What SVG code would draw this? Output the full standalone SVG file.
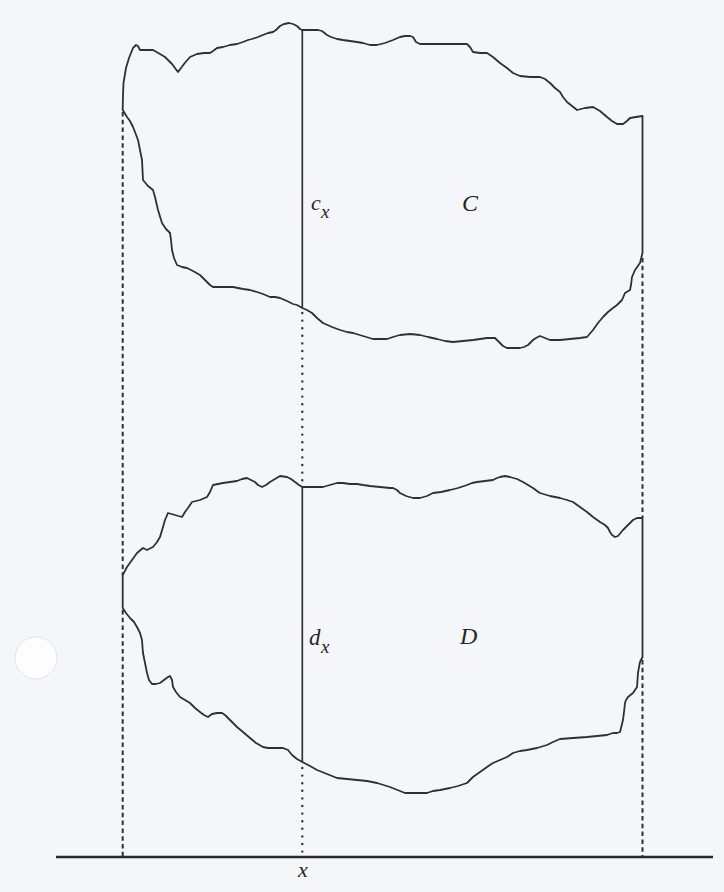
<svg xmlns="http://www.w3.org/2000/svg" width="724" height="892" viewBox="0 0 724 892">
  <defs>
    <style>
      .outline { fill: none; stroke: #303030; stroke-width: 1.8; stroke-linejoin: round; stroke-linecap: round; }
      .solid { fill: none; stroke: #303030; stroke-width: 1.7; }
      .axis { fill: none; stroke: #2a2a30; stroke-width: 2.4; }
      .dashed { fill: none; stroke: #303030; stroke-width: 2; stroke-dasharray: 4.5 3.3; }
      .dotted { fill: none; stroke: #303030; stroke-width: 2.4; stroke-dasharray: 0 7.6; stroke-linecap: round; }
      .lbl { font-family: "Liberation Serif", "Times New Roman", serif; font-style: italic; fill: #262626; }
    </style>
  </defs>
  <rect x="0" y="0" width="724" height="892" fill="#f4f6f9"/>
  <circle cx="36" cy="658" r="21" fill="#fdfdfd" stroke="#e2e4e8" stroke-width="1"/>

  <g id="shape-C">
    <path class="outline" d="M122.7,110 L123,95 123.5,83 126,68 129,58 133,48 136,45 138,46 140,50 146,50 153,50 160,54 165,57 172,64 178,72 184,64 190,57 197,54 204,53 210,53 213,51 217,48 223,47 230,45 237,44 243,42 248,40 252,39 258,37 263,35 268,33 273,32 276,30 280,26 284,24 289,23 293,24 297,26 300,29 302.3,30 310,30 318,30 322,31 327,35 331,37 337,39 343,40 350,41 357,42 363,43 370,45 377,45 385,43 393,40 400,37 405,36 410,36 413,37 416,42 420,44 430,44 440,44 450,44 460,44 467,44 470,47 473,52 480,53 487,53 493,57 500,63 507,68 513,73 520,76 530,77 540,77 545,79 550,83 555,88 560,92 563,97 567,102 572,106 577,110 585,108 593,107 600,111 607,117 612,121 617,124 623,124 627,121 630,118 636,117 642.5,116 L642.5,253 640,263 635,270 632,277 631,285 630,290 625,293 622,300 617,305 613,308 608,312 603,317 598,323 593,330 587,337 580,338 570,339 560,340 550,340 545,338 540,336 536,338 533,340 530,343 528,345 524,347 520,348 513,348 507,348 503,346 500,343 495,338 487,338 480,339 473,340 463,341 453,342 445,341 437,339 428,337 420,335 410,334 400,335 393,337 387,339 380,339 373,339 363,336 353,333 347,332 340,330 332,327 323,323 317,318 312,313 307,310 302.3,308 297,305 293,304 287,301 280,298 275,297 270,297 263,294 257,292 250,290 243,289 233,287 222,287 213,287 210,285 205,280 200,275 193,271 187,268 182,267 177,265 174,258 172,250 171,240 170,233 166,229 162,223 158,210 155,197 153,190 148,186 143,180 142.5,170 142,160 140,150 138,140 135,132 133,127 130,121 127,117 124,112 Z"/>
    <text class="lbl" x="462" y="211" font-size="24">C</text>
  </g>

  <g id="shape-D">
    <path class="outline" d="M122.7,575 L127,567 132,560 137,553 143,548 147,550 153,547 157,542 160,537 163,527 165,520 168,513 175,515 182,517 185,512 188,508 192,502 196,501 200,500 207,497 210,492 213,485 218,484 223,483 230,482 237,481 242,479 247,478 251,480 255,482 258,485 262,487 266,485 270,482 275,479 280,476 287,477 291,479 295,482 299,485 302.3,487 310,487 318,487 323,487 330,485 337,483 343,483 350,484 357,484 363,485 370,486 380,487 390,488 393,488 397,490 400,493 406,496 413,498 420,498 427,496 433,493 441,492 450,490 458,488 467,485 472,483 477,482 485,481 493,480 497,478 500,477 505,476 510,477 517,479 523,482 528,485 533,488 537,491 540,493 550,496 560,498 567,500 573,502 580,507 587,512 593,517 600,522 605,525 608,528 610,532 612,535 615,537 618,536 623,530 628,525 633,520 637,518 642.5,518 L642.5,657 640,662 639,667 638,673 637.5,680 637,687 633,693 628,697 626,700 625,703 624,712 623,720 621,728 620,732 617,733 613,733 607,735 597,736 587,737 573,738 560,739 553,742 547,745 537,748 527,750 520,751 513,753 507,757 500,760 493,763 487,767 480,772 473,777 467,783 458,786 450,788 440,790 433,791 427,793 420,793 413,793 405,793 400,791 390,787 377,783 367,781 357,780 347,779 337,778 327,774 317,770 310,766 302.3,762 297,759 292,755 288,750 283,748 275,748 268,748 263,747 256,743 250,738 243,732 237,727 230,720 225,715 222,713 217,713 212,714 208,717 204,715 200,712 195,708 190,703 185,700 180,697 176,692 173,687 172,680 170,676 168,677 164,680 160,683 156,684 152,684 149,680 147,673 145,663 143,653 142.5,647 142,640 140,633 137,627 134,622 130,618 126,613 122.7,608 Z"/>
    <text class="lbl" x="460" y="644" font-size="24">D</text>
  </g>

  <g id="connectors">
    <line class="axis" x1="56" y1="857" x2="713" y2="857"/>
    <line class="solid" x1="302.3" y1="30" x2="302.3" y2="308"/>
    <line class="solid" x1="302.3" y1="487" x2="302.3" y2="762"/>
    <line class="dashed" x1="122.7" y1="112" x2="122.7" y2="575"/>
    <line class="dashed" x1="122.7" y1="610" x2="122.7" y2="857"/>
    <line class="dashed" x1="642.5" y1="258" x2="642.5" y2="518"/>
    <line class="dashed" x1="642.5" y1="660" x2="642.5" y2="857"/>
    <line class="dotted" x1="302.3" y1="313" x2="302.3" y2="482"/>
    <line class="dotted" x1="302.3" y1="768" x2="302.3" y2="852"/>
  </g>

  <g id="labels">
    <text class="lbl" x="311" y="210" font-size="22">c</text>
    <text class="lbl" x="321" y="218" font-size="19">x</text>
    <text class="lbl" x="309" y="645" font-size="23">d</text>
    <text class="lbl" x="321" y="653" font-size="19">x</text>
    <text class="lbl" x="298" y="877" font-size="22">x</text>
  </g>
</svg>
